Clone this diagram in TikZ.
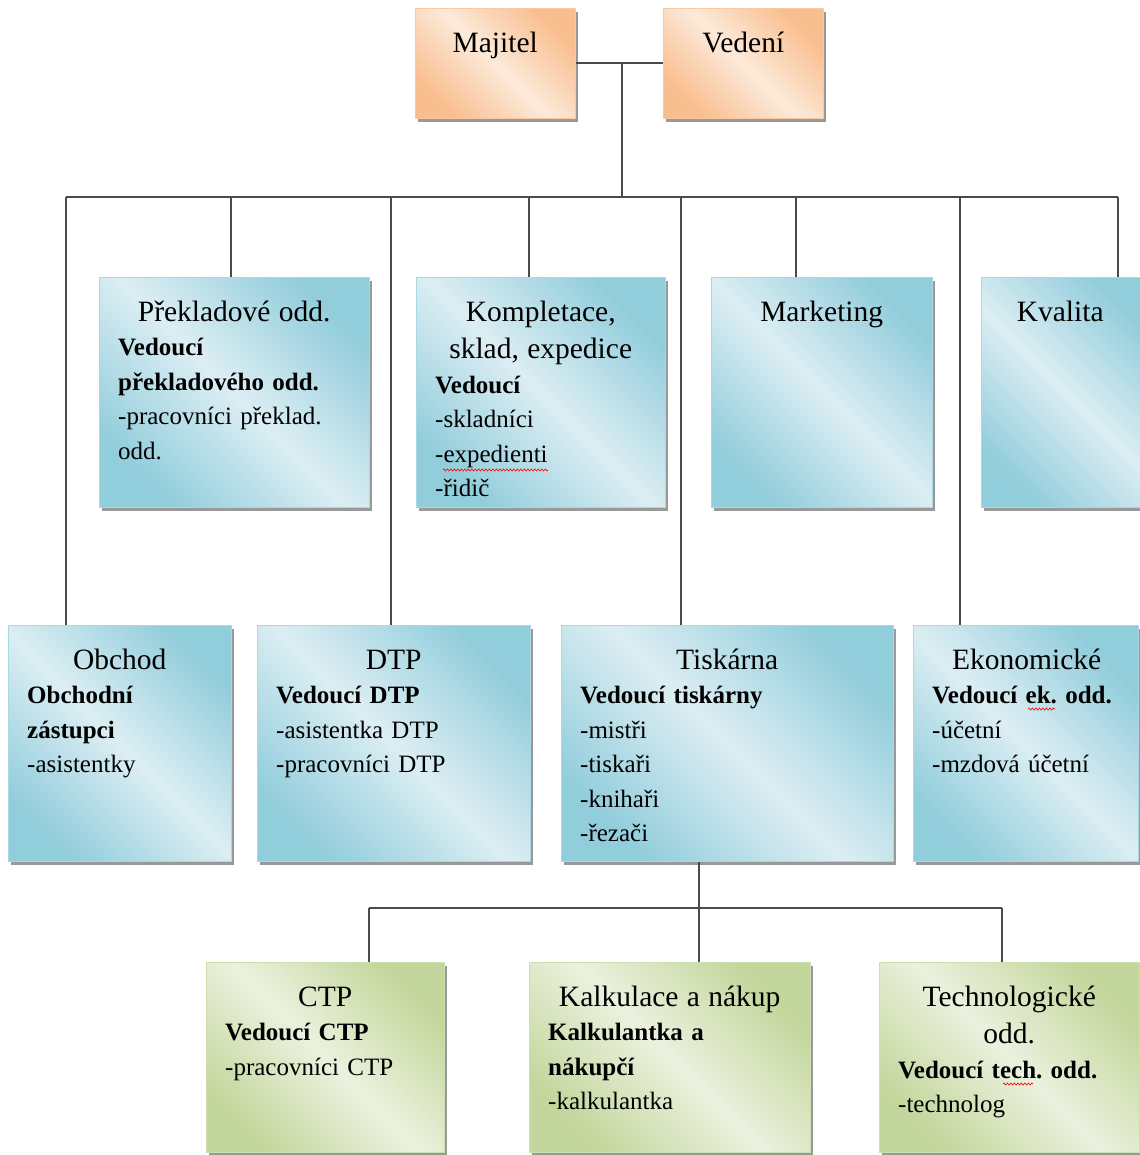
\documentclass[tikz,border=0pt]{standalone}
\usepackage{fontspec}
\setmainfont{Liberation Serif}
\usetikzlibrary{calc,shadows,decorations.pathmorphing}
\definecolor{bD}{HTML}{92CDDC}
\definecolor{bL}{HTML}{DCEEF3}
\definecolor{bE}{HTML}{A9D8E4}
\definecolor{oD}{HTML}{F9BE8E}
\definecolor{oL}{HTML}{FDEADA}
\definecolor{oE}{HTML}{FAC9A2}
\definecolor{gD}{HTML}{C3D69B}
\definecolor{gL}{HTML}{EBF1DE}
\definecolor{gE}{HTML}{CFDEAF}
\definecolor{connc}{HTML}{4A4A4A}
\frenchspacing
\newcommand\ttl[1]{{\centering\fontsize{29.5pt}{37.5pt}\selectfont\rule{0pt}{28pt}#1\par}}
\tikzset{
  orgbox/.style={anchor=north west, inner sep=0pt, line width=0.8pt,
     drop shadow={shadow xshift=3pt, shadow yshift=-4pt, fill=black!50, opacity=0.8}},
  blu/.style={orgbox, draw=bE, top color=bD, bottom color=bD, middle color=bL, shading angle=-45},
  ora/.style={orgbox, draw=oE, top color=oD, bottom color=oD, middle color=oL, shading angle=-45},
  gre/.style={orgbox, draw=gE, top color=gD, bottom color=gD, middle color=gL, shading angle=-45},
  txt/.style={anchor=north west, inner sep=0pt, align=left, font=\frenchspacing\fontsize{25pt}{34.5pt}\selectfont},
  conn/.style={draw=connc, line width=1.9pt},
  spell/.style={draw=red, line width=0.6pt, decorate, decoration={zigzag, amplitude=1.1pt, segment length=3.5pt}}
}
\begin{document}
\begin{tikzpicture}[x=1pt, y=-1pt]
\fill[white] (0,0) rectangle (1139,1155);
\useasboundingbox (0,0) rectangle (1139,1155);

% top
\node[ora, minimum width=160, minimum height=110] (maj) at (415,8) {};
\node[ora, minimum width=160, minimum height=110] (ved) at (663,8) {};
% row 1
\node[blu, minimum width=270, minimum height=230] (prek) at (99,277) {};
\node[blu, minimum width=249, minimum height=230] (komp) at (416,277) {};
\node[blu, minimum width=221, minimum height=230] (mark) at (711,277) {};
\node[blu, minimum width=170, minimum height=230] (kval) at (981,277) {};
% row 2
\node[blu, minimum width=223, minimum height=236] (obch) at (8,625) {};
\node[blu, minimum width=273, minimum height=236] (dtp) at (257,625) {};
\node[blu, minimum width=332, minimum height=236] (tisk) at (561,625) {};
\node[blu, minimum width=225, minimum height=236] (ekon) at (913,625) {};
% row 3
\node[gre, minimum width=238, minimum height=190] (ctp) at (206,962) {};
\node[gre, minimum width=281, minimum height=190] (kalk) at (529,962) {};
\node[gre, minimum width=260, minimum height=190] (tech) at (879,962) {};

% texts
\node[txt, text width=122] (majT) at ($(maj.north west)+(19,16)$) {\ttl{Majitel}};
\node[txt, text width=122] (vedT) at ($(ved.north west)+(19,16)$) {\ttl{Vedení}};
\node[txt, text width=232] (prekT) at ($(prek.north west)+(19,16)$) {\ttl{Překladové odd.}\textbf{Vedoucí}\\\textbf{překladového odd.}\\-pracovníci překlad.\\odd.};
\node[txt, text width=211] (kompT) at ($(komp.north west)+(19,16)$) {\ttl{Kompletace,\\sklad, expedice}\textbf{Vedoucí}\\-skladníci\\-expedienti\\-řidič};
\node[txt, text width=183] (markT) at ($(mark.north west)+(19,16)$) {\ttl{Marketing}};
\node[txt, text width=120] (kvalT) at ($(kval.north west)+(19,16)$) {\ttl{Kvalita}};
\node[txt, text width=185] (obchT) at ($(obch.north west)+(19,16)$) {\ttl{Obchod}\textbf{Obchodní}\\\textbf{zástupci}\\-asistentky};
\node[txt, text width=235] (dtpT) at ($(dtp.north west)+(19,16)$) {\ttl{DTP}\textbf{Vedoucí DTP}\\-asistentka DTP\\-pracovníci DTP};
\node[txt, text width=294] (tiskT) at ($(tisk.north west)+(19,16)$) {\ttl{Tiskárna}\textbf{Vedoucí tiskárny}\\-mistři\\-tiskaři\\-knihaři\\-řezači};
\node[txt, text width=189] (ekonT) at ($(ekon.north west)+(19,16)$) {\ttl{Ekonomické}\textbf{Vedoucí ek. odd.}\\-účetní\\-mzdová účetní};
\node[txt, text width=200] (ctpT) at ($(ctp.north west)+(19,16)$) {\ttl{CTP}\textbf{Vedoucí CTP}\\-pracovníci CTP};
\node[txt, text width=243] (kalkT) at ($(kalk.north west)+(19,16)$) {\ttl{Kalkulace a nákup}\textbf{Kalkulantka a}\\\textbf{nákupčí}\\-kalkulantka};
\node[txt, text width=222] (techT) at ($(tech.north west)+(19,16)$) {\ttl{Technologické\\odd.}\textbf{Vedoucí tech. odd.}\\-technolog};

% connectors top
\draw[conn] (maj.east) -- (ved.west);
\coordinate (topc) at ($(maj.east)!0.5!(ved.west)+(3,0)$);
\coordinate (bus) at (622,197);
\draw[conn] (topc) -- (topc |- bus);
\coordinate (dObch) at ($(obch.north west)+(58,0)$);
\coordinate (dPrek) at ($(prek.north west)+(132,0)$);
\coordinate (dDtp)  at ($(dtp.north west)+(134,0)$);
\coordinate (dKomp) at ($(komp.north west)+(113,0)$);
\coordinate (dTisk) at ($(tisk.north west)+(120,0)$);
\coordinate (dMark) at ($(mark.north west)+(85,0)$);
\coordinate (dEkon) at ($(ekon.north west)+(47,0)$);
\coordinate (dKval) at ($(kval.north west)+(137,0)$);
\draw[conn] (dObch |- bus) -- (dKval |- bus);
\foreach \d in {dObch,dPrek,dDtp,dKomp,dTisk,dMark,dEkon,dKval}
  \draw[conn] (\d |- bus) -- (\d);

% connectors bottom
\coordinate (tOut) at ($(tisk.south west)+(138,0)$);
\coordinate (bus2) at (699,908);
\coordinate (dCtp)  at ($(ctp.north west)+(163,0)$);
\coordinate (dKalk) at ($(kalk.north west)+(170,0)$);
\coordinate (dTech) at ($(tech.north west)+(123,0)$);
\draw[conn] (tOut) -- (tOut |- bus2);
\draw[conn] (dCtp |- bus2) -- (dTech |- bus2);
\foreach \d in {dCtp,dKalk,dTech}
  \draw[conn] (\d |- bus2) -- (\d);

% spelling marks
\draw[spell] (443,470) -- (548,470);
\draw[spell] (1028,709) -- (1055,709);
\draw[spell] (1003,1084) -- (1033,1084);
\end{tikzpicture}
\end{document}
